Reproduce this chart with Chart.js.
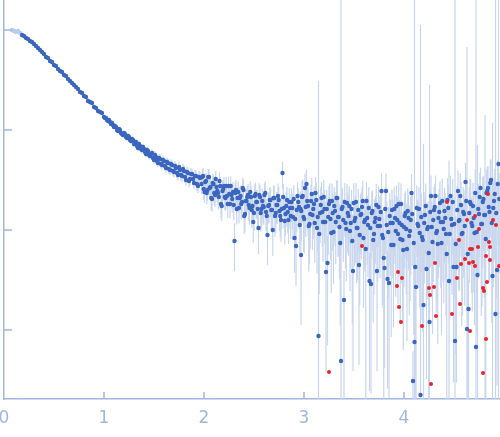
<!DOCTYPE html>
<html>
<head>
<meta charset="utf-8">
<script src="https://cdn.jsdelivr.net/npm/chart.js@4.4.1/dist/chart.umd.min.js"></script>
<style>
  body { margin: 0; background: #fff; }
  canvas { display: block; }
</style>
</head>
<body>
<canvas id="curve" width="500" height="437"></canvas>
<script>
// scattering curve: [q, log10 I, relative error sigma/I]
const excludedPoints = [
  [0.08, 0.00, 0.04], [0.10, -0.01, 0.04], [0.12, -0.02, 0.04], [0.14, -0.01, 0.04], [0.16, -0.03, 0.04]
];

const lowQPoints = [
  [0.18,-0.05,0.01],[0.20,-0.06,0.01],[0.22,-0.08,0.01],[0.24,-0.09,0.01],[0.26,-0.11,0.01],
  [0.28,-0.12,0.01],[0.30,-0.14,0.01],[0.32,-0.16,0.01],[0.34,-0.18,0.01],[0.36,-0.20,0.01],
  [0.38,-0.22,0.015],[0.40,-0.24,0.015],[0.42,-0.27,0.015],[0.44,-0.28,0.015],[0.46,-0.31,0.015],
  [0.48,-0.32,0.015],[0.50,-0.35,0.015],[0.52,-0.36,0.015],[0.54,-0.39,0.02],[0.56,-0.41,0.02],
  [0.58,-0.42,0.02],[0.60,-0.45,0.02],[0.62,-0.46,0.02],[0.64,-0.49,0.02],[0.66,-0.51,0.02],
  [0.68,-0.53,0.02],[0.70,-0.55,0.025],[0.72,-0.57,0.025],[0.74,-0.59,0.025],[0.76,-0.62,0.025],
  [0.78,-0.63,0.025],[0.80,-0.66,0.03],[0.82,-0.67,0.03],[0.84,-0.71,0.03],[0.86,-0.72,0.03],
  [0.88,-0.73,0.03],[0.90,-0.77,0.035],[0.92,-0.78,0.035],[0.94,-0.81,0.035],[0.96,-0.82,0.035],
  [0.98,-0.83,0.04],[1.00,-0.87,0.04],[1.02,-0.88,0.04],[1.04,-0.91,0.04],[1.06,-0.92,0.045],
  [1.08,-0.93,0.045],[1.10,-0.97,0.045],[1.12,-0.97,0.05],[1.14,-1.01,0.05],[1.16,-1.00,0.05],
  [1.18,-1.04,0.055],[1.20,-1.03,0.055],[1.22,-1.07,0.06],[1.24,-1.06,0.06],[1.26,-1.10,0.06],
  [1.28,-1.09,0.065],[1.30,-1.14,0.065],[1.32,-1.12,0.07],[1.34,-1.18,0.07],[1.36,-1.16,0.075],
  [1.38,-1.20,0.075],[1.40,-1.19,0.08],[1.42,-1.24,0.08],[1.44,-1.21,0.085],[1.46,-1.26,0.085],
  [1.48,-1.23,0.09],[1.50,-1.30,0.09],[1.52,-1.27,0.095],[1.54,-1.33,0.095],[1.56,-1.29,0.1],
  [1.58,-1.35,0.1],[1.60,-1.31,0.105],[1.62,-1.38,0.105],[1.64,-1.33,0.11],[1.66,-1.40,0.11],
  [1.68,-1.35,0.115],[1.70,-1.42,0.115],[1.72,-1.38,0.12],[1.74,-1.45,0.12],[1.76,-1.40,0.125],
  [1.78,-1.46,0.125],[1.80,-1.41,0.13],[1.82,-1.50,0.13],[1.84,-1.43,0.135],[1.86,-1.49,0.135],
  [1.88,-1.44,0.14],[1.90,-1.53,0.14],[1.92,-1.46,0.145],[1.94,-1.56,0.15],[1.96,-1.48,0.15],
  // in-between points of the same run
  [1.01,-0.88,0.04],[1.03,-0.90,0.04],[1.05,-0.90,0.045],[1.07,-0.94,0.045],[1.09,-0.95,0.045],
  [1.11,-0.96,0.05],[1.13,-1.00,0.05],[1.15,-0.99,0.05],[1.17,-1.03,0.055],[1.19,-1.05,0.055],
  [1.21,-1.04,0.06],[1.23,-1.08,0.06],[1.25,-1.07,0.06],[1.27,-1.11,0.065],[1.29,-1.10,0.065],
  [1.31,-1.13,0.07],[1.33,-1.16,0.07],[1.35,-1.14,0.075],[1.37,-1.19,0.075],[1.39,-1.17,0.08],
  [1.41,-1.22,0.08],[1.43,-1.20,0.085],[1.45,-1.25,0.085],[1.47,-1.24,0.09],[1.49,-1.28,0.09],
  [1.51,-1.25,0.095],[1.53,-1.31,0.095],[1.55,-1.28,0.1],[1.57,-1.34,0.1],[1.59,-1.30,0.105],
  [1.61,-1.36,0.105],[1.63,-1.32,0.11],[1.65,-1.39,0.11],[1.67,-1.34,0.115],[1.69,-1.41,0.115],
  [1.71,-1.36,0.12],[1.73,-1.43,0.12],[1.75,-1.37,0.125],[1.77,-1.45,0.125],[1.79,-1.39,0.13],
  [1.81,-1.47,0.13],[1.83,-1.42,0.135],[1.85,-1.51,0.135],[1.87,-1.44,0.14],[1.89,-1.49,0.14],
  [1.91,-1.46,0.145],[1.93,-1.54,0.15],[1.95,-1.47,0.15]
];

const midQPoints = [
  [1.975,-1.54,0.2],[1.99,-1.46,0.2],[2.005,-1.62,0.22],[2.02,-1.51,0.2],[2.035,-1.60,0.22],
  [2.05,-1.47,0.2],[2.065,-1.57,0.22],[2.08,-1.69,0.25],[2.095,-1.54,0.22],[2.11,-1.65,0.24],
  [2.125,-1.57,0.22],[2.14,-1.63,0.24],[2.155,-1.51,0.22],[2.17,-1.74,0.28],[2.185,-1.61,0.24],
  [2.20,-1.56,0.24],[2.215,-1.68,0.26],[2.23,-1.66,0.26],[2.245,-1.56,0.24],[2.26,-1.74,0.28],
  [2.275,-1.65,0.26],[2.29,-1.62,0.26],[2.305,-2.11,0.5],[2.32,-1.60,0.26],[2.335,-1.68,0.28],
  [2.35,-1.78,0.3],[2.365,-1.66,0.28],[2.38,-1.72,0.3],[2.395,-1.60,0.27],[2.41,-1.84,0.33],
  [2.425,-1.71,0.3],[2.44,-1.65,0.29],[2.455,-1.78,0.32],[2.47,-1.67,0.3],[2.485,-1.76,0.32],
  [2.50,-1.83,0.34],[2.515,-1.64,0.3],[2.53,-1.72,0.32],[2.545,-1.98,0.45],[2.56,-1.67,0.31],
  [2.575,-1.79,0.34],[2.59,-1.76,0.33],[2.605,-1.65,0.31],[2.62,-1.82,0.35],[2.635,-2.05,0.5],
  [2.65,-1.75,0.34],[2.665,-1.70,0.33],[2.68,-1.80,0.36],[2.695,-1.68,0.33],[2.71,-1.86,0.38],
  [2.725,-1.75,0.35],[2.74,-1.66,0.33],[2.755,-1.81,0.37],[2.77,-1.90,0.4],[2.785,-1.43,0.3],
  [2.80,-1.78,0.37],[2.815,-1.84,0.39],[2.83,-1.70,0.36],[2.845,-1.90,0.42],[2.86,-1.78,0.38],
  [2.875,-1.72,0.37],[2.89,-1.87,0.41],[2.905,-2.08,0.55],[2.92,-2.16,0.6],[2.935,-1.66,0.37],
  [2.95,-1.77,0.4],
  [1.9825,-1.47,0.2],[1.9975,-1.59,0.22],[2.0125,-1.52,0.2],[2.0275,-1.63,0.23],[2.0425,-1.47,0.2],
  [2.0575,-1.58,0.22],[2.0725,-1.68,0.25],[2.0875,-1.53,0.22],[2.1025,-1.63,0.24],[2.1175,-1.49,0.21],
  [2.1325,-1.61,0.23],[2.1475,-1.67,0.25],[2.1625,-1.56,0.23],[2.1775,-1.76,0.29],[2.1925,-1.59,0.24],
  [2.2075,-1.67,0.26],[2.2225,-1.56,0.24],[2.2375,-1.74,0.28],[2.2525,-1.64,0.26],[2.2675,-1.56,0.25],
  [2.2825,-1.69,0.27],[2.2975,-1.75,0.29],[2.3125,-1.63,0.27],[2.3275,-1.79,0.3],[2.3425,-1.62,0.27],
  [2.3575,-1.68,0.28],[2.3725,-1.74,0.3],[2.3875,-1.58,0.27],[2.4025,-1.86,0.34],[2.4175,-1.71,0.3],
  [2.4325,-1.67,0.29],[2.4475,-1.75,0.31],[2.4625,-1.62,0.29],[2.4775,-1.80,0.33],[2.4925,-1.92,0.38],
  [2.5075,-1.66,0.3],[2.5225,-1.72,0.32],[2.5375,-1.79,0.34],[2.5525,-1.65,0.31],[2.5675,-1.83,0.35],
  [2.5825,-1.71,0.33],[2.5975,-1.77,0.34],[2.6125,-1.63,0.31],[2.6275,-1.86,0.37],[2.6425,-1.76,0.34],
  [2.6575,-1.70,0.33],[2.6725,-1.80,0.36],[2.6875,-2.00,0.45],[2.7025,-1.68,0.33],[2.7175,-1.83,0.37],
  [2.7325,-1.75,0.35],[2.7475,-1.70,0.34],[2.7625,-1.86,0.39],[2.7775,-1.79,0.37],[2.7925,-1.67,0.35],
  [2.8075,-1.91,0.42],[2.8225,-1.76,0.38],[2.8375,-1.82,0.39],[2.8525,-1.72,0.37],[2.8675,-1.86,0.41],
  [2.8825,-1.78,0.39],[2.8975,-1.69,0.37],[2.9125,-1.89,0.43],[2.9275,-1.80,0.4],[2.9425,-1.72,0.38],
  [2.9575,-1.95,0.47]
];

const highQPoints = [
  [2.965,-1.79,0.5],[2.97,-2.25,0.8],[2.98,-1.67,0.45],[2.995,-1.87,0.55],[3.01,-1.58,0.4],
  [3.025,-1.54,0.4],[3.04,-1.76,0.5],[3.055,-1.94,0.6],[3.07,-1.71,0.45],[3.085,-1.85,0.55],
  [3.10,-1.74,0.5],[3.115,-1.63,0.45],[3.13,-1.98,0.65],[3.145,-3.06,354],[3.16,-1.83,0.5],
  [3.175,-1.68,0.45],[3.19,-1.92,0.6],[3.205,-1.79,0.55],[3.22,-2.42,0.9],[3.235,-2.33,0.85],
  [3.25,-1.74,0.5],[3.265,-1.89,0.6],[3.28,-1.71,0.5],[3.295,-2.02,0.7],[3.31,-1.81,0.55],
  [3.325,-1.68,0.5],[3.34,-1.87,0.6],[3.355,-1.97,0.7],[3.37,-3.31,5000],[3.385,-1.77,0.55],
  [3.40,-2.70,0.95],[3.415,-1.93,0.65],[3.43,-1.73,0.55],[3.445,-1.86,0.6],[3.46,-2.01,0.75],
  [3.475,-1.79,0.55],[3.49,-2.41,0.9],[3.505,-1.91,0.65],[3.52,-1.72,0.55],[3.535,-1.98,0.7],
  [3.55,-2.35,0.9],[3.565,-1.85,0.6],[3.58,-1.77,0.6],[3.595,-2.08,0.8],[3.61,-1.90,0.65],
  [3.625,-1.71,0.55],[3.64,-1.95,0.7],[3.655,-2.51,0.92],[3.67,-2.54,0.92],[3.685,-1.81,0.6],
  [3.70,-2.04,0.75],[3.715,-1.88,0.65],[3.73,-2.41,0.9],[3.745,-1.77,0.6],[3.76,-1.96,0.7],
  [3.775,-1.61,0.5],[3.79,-2.08,0.8],[3.805,-2.38,0.9],[3.82,-1.61,0.5],[3.835,-2.49,0.92],
  [3.85,-2.53,0.93],[3.865,-1.93,0.7],[3.88,-1.80,0.6],[3.895,-2.15,0.85],[3.91,-1.88,0.65],
  [3.925,-1.76,0.6],[3.94,-2.04,0.8],[3.955,-1.93,0.7],[3.97,-1.74,0.6],[3.985,-2.10,0.85],
  [4.00,-1.97,0.75],[4.015,-1.83,0.65],[4.03,-2.19,0.88],[4.045,-1.88,0.7],[4.06,-2.01,0.8],
  [4.075,-1.63,0.55],[4.09,-3.51,0.98],[4.105,-3.12,5000],[4.12,-2.57,0.93],[4.135,-1.94,0.75],
  [4.15,-1.79,0.65],[4.165,-3.65,5000],[4.18,-2.07,0.85],[4.195,-2.75,40],[4.21,-1.85,0.7],
  [4.225,-2.39,0.92],[4.24,-1.97,0.8],[4.255,-2.92,234],[4.27,-1.66,0.6],[4.285,-2.12,0.88],
  [4.30,-1.80,0.7],[4.315,-1.66,0.6],[4.33,-2.01,0.8],[4.345,-1.88,0.75],[4.36,-1.73,0.65],
  [4.375,-2.13,0.88],[4.39,-1.92,0.75],[4.405,-1.81,0.7],[4.42,-2.04,0.85],[4.435,-1.70,0.65],
  [4.45,-2.51,15],[4.465,-1.66,0.6],[4.48,-1.95,0.8],[4.495,-2.37,0.93],[4.51,-3.11,5000],
  [4.525,-2.37,0.93],[4.54,-1.61,0.6],[4.555,-1.90,0.8],[4.57,-1.75,0.7],[4.585,-2.03,0.85],
  [4.60,-1.84,0.75],[4.615,-1.52,0.55],[4.63,-2.99,660],[4.645,-2.79,0.97],[4.66,-1.72,0.7],
  [4.675,-1.93,0.8],[4.69,-1.76,0.7],[4.705,-2.03,0.88],[4.72,-3.17,5000],[4.735,-2.45,19],
  [4.75,-1.84,0.75],[4.765,-1.58,0.6],[4.78,-1.94,0.85],[4.795,-1.69,0.7],[4.81,-1.85,9],
  [4.825,-1.63,0.7],[4.84,-1.58,0.65],[4.855,-1.82,0.8],[4.87,-1.50,0.6],[4.885,-2.46,33],
  [4.90,-1.71,0.75],[4.915,-2.84,5000],[4.93,-2.40,0.93],[4.945,-1.34,5000],
  [2.9725,-1.81,0.5],[2.9875,-1.66,0.45],[3.0025,-1.89,0.55],[3.0175,-1.77,0.5],[3.0325,-1.71,0.48],
  [3.0475,-1.96,0.65],[3.0625,-1.84,0.55],[3.0775,-1.64,0.45],[3.0925,-1.79,0.5],[3.1075,-1.93,0.6],
  [3.1225,-1.70,0.5],[3.1375,-1.87,0.55],[3.1525,-2.04,0.75],[3.1675,-1.75,0.5],[3.1825,-1.82,0.55],
  [3.1975,-1.67,0.48],[3.2125,-1.92,0.6],[3.2275,-1.79,0.55],[3.2425,-1.87,0.58],[3.2575,-1.71,0.5],
  [3.2725,-2.03,0.75],[3.2875,-1.83,0.58],[3.3025,-1.76,0.55],[3.3175,-1.92,0.62],[3.3325,-1.68,0.5],
  [3.3475,-1.87,0.6],[3.3625,-2.13,0.85],[3.3775,-1.79,0.58],[3.3925,-1.90,0.62],[3.4075,-1.72,0.55],
  [3.4225,-1.99,0.7],[3.4375,-1.83,0.6],[3.4525,-1.76,0.58],[3.4675,-1.93,0.65],[3.4825,-2.11,0.85],
  [3.4975,-1.73,0.58],[3.5125,-1.88,0.65],[3.5275,-1.98,0.72],[3.5425,-1.80,0.62],[3.5575,-2.05,0.8],
  [3.5725,-1.84,0.65],[3.5875,-1.71,0.6],[3.6025,-1.92,0.68],[3.6175,-2.19,1.5],[3.6325,-1.88,0.66],
  [3.6475,-1.78,0.62],[3.6625,-1.98,0.72],[3.6775,-1.83,0.65],[3.6925,-2.10,0.85],[3.7075,-1.92,0.7],
  [3.7225,-1.75,0.62],[3.7375,-1.96,0.72],[3.7525,-1.89,0.68],[3.7675,-1.82,0.66],[3.7825,-2.05,0.8],
  [3.7975,-2.28,1.5],[3.8125,-1.79,0.65],[3.8275,-1.95,0.72],[3.8425,-2.02,0.78],[3.8575,-1.86,0.68],
  [3.8725,-2.15,0.88],[3.8875,-1.93,0.72],[3.9025,-1.79,0.66],[3.9175,-2.01,0.78],[3.9325,-1.90,0.7],
  [3.9475,-1.74,0.65],[3.9625,-2.09,0.85],[3.9775,-1.95,0.74],[3.9925,-2.20,0.9],[4.0075,-1.86,0.7],
  [4.0225,-1.99,0.78],[4.0375,-1.81,0.68],[4.0525,-2.06,0.84],[4.0675,-1.90,0.72],[4.0825,-1.84,0.7],
  [4.0975,-2.13,0.88],[4.1125,-2.37,1.5],[4.1275,-1.78,0.68],[4.1425,-1.96,0.76],[4.1575,-2.03,0.82],
  [4.1725,-1.87,0.72],[4.1875,-2.10,0.88],[4.2025,-1.93,0.75],[4.2175,-1.76,0.68],[4.2325,-1.99,0.8],
  [4.2475,-2.23,1.5],[4.2625,-1.82,0.72],[4.2775,-1.97,0.8],[4.2925,-1.90,0.76],[4.3075,-1.77,0.7],
  [4.3225,-2.03,0.84],[4.3375,-2.14,0.9],[4.3525,-1.82,0.72],[4.3675,-1.92,0.78],[4.3825,-1.71,0.68],
  [4.3975,-1.99,0.82],[4.4125,-1.88,0.76],[4.4275,-2.24,1.5],[4.4425,-1.78,0.72],[4.4575,-2.04,0.86],
  [4.4725,-1.89,0.78],[4.4875,-1.72,0.7],[4.5025,-1.94,0.82],[4.5175,-2.14,0.92],[4.5325,-1.80,0.75],
  [4.5475,-1.91,0.8],[4.5625,-1.66,0.7],[4.5775,-2.04,0.88],[4.5925,-1.82,0.78],[4.6075,-1.96,0.84],
  [4.6225,-1.71,0.74],[4.6375,-2.24,1.5],[4.6525,-1.83,0.8],[4.6675,-1.74,0.76],[4.6825,-1.96,0.86],
  [4.6975,-1.88,0.82],[4.7125,-1.63,0.72],[4.7275,-2.02,0.9],[4.7425,-1.79,0.8],[4.7575,-1.67,0.75],
  [4.7725,-1.94,0.88],[4.7875,-1.72,0.78],[4.8025,-1.85,0.85],[4.8175,-2.09,1.5],[4.8325,-1.61,0.75],
  [4.8475,-1.77,0.82],[4.8625,-1.53,0.72],[4.8775,-1.93,0.9],[4.8925,-1.78,0.84],[4.9075,-1.64,0.78],
  [4.9225,-1.83,0.86],[4.9375,-1.54,0.75],[4.9525,-1.69,0.82]
];

// points flagged as outliers (red)
const outlierPoints = [
  [3.25,-3.42],[3.58,-2.16],[3.93,-2.56],[3.94,-2.42],[3.95,-2.77],[3.97,-2.92],[3.98,-2.48],
  [4.18,-2.96],[4.25,-2.58],[4.26,-2.65],[4.27,-3.54],[4.30,-2.57],[4.31,-2.33],[4.32,-2.86],
  [4.43,-1.72],[4.48,-2.84],[4.53,-2.48],[4.55,-2.10],[4.56,-2.74],[4.57,-2.34],[4.61,-2.29],
  [4.63,-1.90],[4.65,-2.33],[4.66,-2.19],[4.66,-3.01],[4.68,-2.19],[4.69,-2.32],[4.71,-1.86],
  [4.71,-2.36],[4.74,-2.17],[4.75,-1.99],[4.79,-2.58],[4.79,-3.43],[4.80,-2.61],[4.82,-2.26],
  [4.82,-3.09],[4.83,-2.52],[4.84,-1.64],[4.85,-2.12],[4.86,-2.17],[4.86,-2.30],[4.89,-1.90],
  [4.92,-1.95],[4.95,-2.36]
];

const xTicks = [0, 1, 2, 3, 4];
const xTickLabels = ["0", "1", "2", "3", "4"];
const yDecades = [0, -1, -2, -3];

const axisColor = "#a2b6e3";

function toXY(list) {
  return list.map((p) => ({ x: p[0], y: p[1] }));
}

const bluePoints = lowQPoints.concat(midQPoints, highQPoints);

// vertical error bars drawn beneath the points
const errorBars = {
  id: "errorBars",
  beforeDatasetsDraw(chart) {
    const { ctx, chartArea, scales } = chart;
    const x = scales.x;
    const y = scales.y;
    ctx.save();
    ctx.beginPath();
    ctx.rect(chartArea.left, chartArea.top, chartArea.right - chartArea.left, chartArea.bottom - chartArea.top);
    ctx.clip();
    ctx.strokeStyle = "#c8d6ee";
    ctx.lineWidth = 1.2;
    chart.data.datasets.forEach((ds) => {
      if (!ds.errors) return;
      ds.data.forEach((p, i) => {
        const rel = ds.errors[i];
        const px = x.getPixelForValue(p.x);
        const top = y.getPixelForValue(p.y + Math.log10(1 + rel));
        const bottom = rel >= 1 ? chartArea.bottom : y.getPixelForValue(p.y + Math.log10(1 - rel));
        ctx.beginPath();
        ctx.moveTo(px, top);
        ctx.lineTo(px, bottom);
        ctx.stroke();
      });
    });
    ctx.restore();
  }
};

// short inward tick marks and the q labels
const innerTicks = {
  id: "innerTicks",
  afterDraw(chart) {
    const { ctx, chartArea, scales } = chart;
    ctx.save();
    ctx.strokeStyle = axisColor;
    ctx.lineWidth = 1.5;
    yDecades.forEach((v) => {
      const py = scales.y.getPixelForValue(v);
      ctx.beginPath();
      ctx.moveTo(chartArea.left, py);
      ctx.lineTo(chartArea.left + 8, py);
      ctx.stroke();
    });
    xTicks.slice(1).forEach((v) => {
      const px = scales.x.getPixelForValue(v);
      ctx.beginPath();
      ctx.moveTo(px, chartArea.bottom);
      ctx.lineTo(px, chartArea.bottom - 7);
      ctx.stroke();
    });
    ctx.fillStyle = axisColor;
    ctx.font = "17px 'DejaVu Sans'";
    ctx.textAlign = "center";
    ctx.textBaseline = "middle";
    xTicks.forEach((v, i) => {
      ctx.fillText(xTickLabels[i], scales.x.getPixelForValue(v), chartArea.bottom + 20);
    });
    ctx.restore();
  }
};

new Chart(document.getElementById("curve"), {
  type: "scatter",
  data: {
    datasets: [
      {
        label: "outliers",
        data: toXY(outlierPoints),
        backgroundColor: "#e8232b",
        pointRadius: 2,
        pointBorderWidth: 0,
        order: 1
      },
      {
        label: "data",
        data: toXY(bluePoints),
        errors: bluePoints.map((p) => p[2]),
        backgroundColor: "#3b66bf",
        pointRadius: 2.2,
        pointBorderWidth: 0,
        order: 2
      },
      {
        label: "excluded",
        data: toXY(excludedPoints),
        errors: excludedPoints.map((p) => p[2]),
        backgroundColor: "#b9cbea",
        pointRadius: 2.2,
        pointBorderWidth: 0,
        order: 3
      }
    ]
  },
  options: {
    responsive: false,
    animation: false,
    devicePixelRatio: 1,
    layout: { padding: 0, autoPadding: false },
    plugins: {
      legend: { display: false },
      tooltip: { enabled: false }
    },
    scales: {
      x: {
        type: "linear",
        min: 0,
        max: 4.96,
        afterBuildTicks: (scale) => {
          scale.ticks = xTicks.map((v) => ({ value: v }));
        },
        afterFit: (scale) => {
          scale.height = 38;
        },
        grid: { display: false, drawTicks: false },
        border: { color: axisColor, width: 1.5 },
        ticks: { display: false }
      },
      y: {
        type: "linear",
        min: -3.69,
        max: 0.3,
        afterBuildTicks: (scale) => {
          scale.ticks = yDecades.map((v) => ({ value: v }));
        },
        afterFit: (scale) => {
          scale.width = 4;
        },
        grid: { display: false, drawTicks: false },
        border: { color: axisColor, width: 1.5 },
        ticks: { display: false }
      }
    }
  },
  plugins: [errorBars, innerTicks]
});
</script>
</body>
</html>
